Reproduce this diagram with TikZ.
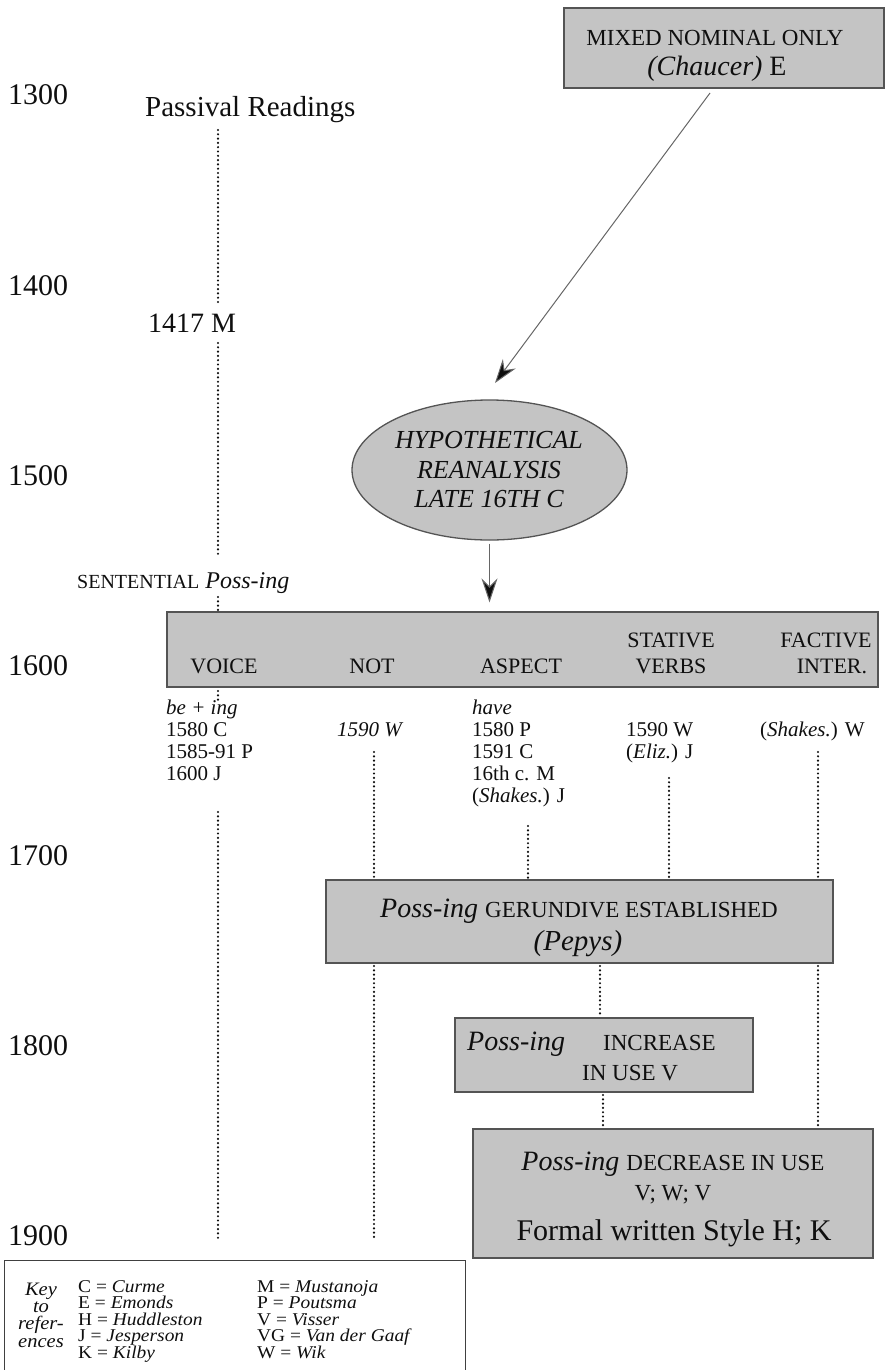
\documentclass[tikz,border=0pt]{standalone}
\usepackage{fontspec}
\setmainfont{Liberation Serif}
\newfontfamily\keyfont[FakeStretch=1.08]{Liberation Serif}
\usetikzlibrary{arrows.meta,shapes.geometric}
\definecolor{ink}{gray}{0.06}
\definecolor{boxfill}{gray}{0.77}
\definecolor{boxline}{gray}{0.33}
\newcommand\myfs[1]{\fontsize{#1}{#1}\selectfont}
\begin{document}
\begin{tikzpicture}[x=1pt,y=-1pt,
  txt/.style={inner sep=0pt, anchor=base west, text=ink},
  ctxt/.style={inner sep=0pt, anchor=base, text=ink},
  box/.style={draw=boxline, fill=boxfill, line width=1.3pt, inner sep=0pt},
  dots/.style={draw=ink, line width=2.4pt, dash pattern=on 0pt off 4.3pt, line cap=round},
  arr/.style={draw=black!60, line width=1pt, -{Stealth[length=24pt,width=16pt,inset=8pt,fill=ink]}}]
\useasboundingbox (0,0) rectangle (890,1370);

% year labels
\foreach \yr/\yy in {1300/105,1400/295,1500/485,1600/675,1700/865,1800/1055,1900/1245}
  \node[txt, font=\myfs{30}] (y\yr) at (8,\yy) {\yr};

% boxes
\node[box, minimum width=320pt, minimum height=80pt] (topbox) at (724,48) {};
\node[box, ellipse, minimum width=275pt, minimum height=140pt] (ell) at (489.5,470) {};
\node[box, minimum width=711pt, minimum height=75pt] (wide) at (522.5,649.5) {};
\node[box, minimum width=507pt, minimum height=83pt] (pepys) at (579.5,921.5) {};
\node[box, minimum width=298pt, minimum height=74pt] (incr) at (604,1055) {};
\node[box, minimum width=400pt, minimum height=129pt] (decr) at (673,1193.5) {};
\node[draw=black!75, line width=1pt, minimum width=461pt, minimum height=130pt, inner sep=0pt] (key) at (234.5,1325) {};

% top box text
\node[ctxt, font=\myfs{23}] (tb1) at (715,46) {MIXED NOMINAL ONLY};
\node[ctxt, font=\myfs{28}] (tb2) at (717,76) {\textit{(Chaucer)} E};

% ellipse text
\node[ctxt, font=\myfs{26}\itshape] (el1) at (489,448) {HYPOTHETICAL};
\node[ctxt, font=\myfs{26}\itshape] (el2) at (489,478) {REANALYSIS};
\node[ctxt, font=\myfs{26}\itshape] (el3) at (489,507) {LATE 16TH C};

% arrows
\coordinate (a1s) at (710,93);
\coordinate (a1e) at (495,383);
\draw[arr] (a1s) -- (a1e);
\draw[arr, shorten <=3pt, shorten >=9pt] (ell.south) -- (ell.south |- wide.north);

% passival readings column
\node[txt, font=\myfs{29}] (pass) at (145,117) {Passival Readings};
\node[txt, font=\myfs{28}] (m1417) at (148,332) {1417 M};
\node[txt] (sent) at (77,588) {\myfs{20}SENTENTIAL\hspace{6pt}\myfs{24}\itshape Poss-ing};

% wide box labels
\node[ctxt, font=\myfs{22}] (voice) at (224,673) {VOICE};
\node[ctxt, font=\myfs{22}] (not) at (372,673) {NOT};
\node[ctxt, font=\myfs{22}] (aspect) at (521,673) {ASPECT};
\node[ctxt, font=\myfs{22}] (stat1) at (671,647) {STATIVE};
\node[ctxt, font=\myfs{22}] (stat2) at (671,673) {VERBS};
\node[ctxt, font=\myfs{22}] (fact1) at (826,647) {FACTIVE};
\node[ctxt, font=\myfs{22}] (fact2) at (832,673) {INTER.};

% column texts
\node[txt, font=\myfs{21}] (c1a) at (166,714) {\textit{be + ing}};
\node[txt, font=\myfs{21}] (c1b) at (166,736) {1580 C};
\node[txt, font=\myfs{21}] (c1c) at (166,758) {1585-91 P};
\node[txt, font=\myfs{21}] (c1d) at (166,780) {1600 J};
\node[txt, font=\myfs{21}] (c2a) at (337,736) {\textit{1590 W}};
\node[txt, font=\myfs{21}] (c3a) at (472,714) {\textit{have}};
\node[txt, font=\myfs{21}] (c3b) at (472,736) {1580 P};
\node[txt, font=\myfs{21}] (c3c) at (472,758) {1591 C};
\node[txt, font=\myfs{21}] (c3d) at (472,780) {16th c. M};
\node[txt, font=\myfs{21}] (c3e) at (472,802) {(\textit{Shakes.}) J};
\node[txt, font=\myfs{21}] (c4a) at (626,736) {1590 W};
\node[txt, font=\myfs{21}] (c4b) at (626,758) {(\textit{Eliz.}) J};
\node[txt, font=\myfs{21}] (c5a) at (760,736) {(\textit{Shakes.}) W};

% pepys box text
\node[ctxt] (pp1) at (579,917) {\myfs{28}\itshape Poss-ing\hspace{7pt}\upshape\myfs{23}GERUNDIVE ESTABLISHED};
\node[ctxt, font=\myfs{29}\itshape] (pp2) at (578,950) {(Pepys)};

% increase box text
\node[txt, font=\myfs{28}\itshape] (in1) at (467,1050) {Poss-ing};
\node[txt, font=\myfs{23}] (in2) at (603,1050) {INCREASE};
\node[txt, font=\myfs{23}] (in3) at (582,1080) {IN USE V};

% decrease box text
\node[ctxt] (de1) at (673,1170) {\myfs{28}\itshape Poss-ing\hspace{7pt}\upshape\myfs{23}DECREASE IN USE};
\node[ctxt, font=\myfs{23}] (de2) at (673,1200) {V; W; V};
\node[ctxt, font=\myfs{30}] (de3) at (674,1240) {Formal written Style H; K};

% key
\node[ctxt, font=\keyfont\myfs{19}\itshape] (k1) at (41,1295) {Key};
\node[ctxt, font=\keyfont\myfs{19}\itshape] (k2) at (41,1312) {to};
\node[ctxt, font=\keyfont\myfs{19}\itshape] (k3) at (41,1329) {refer-};
\node[ctxt, font=\keyfont\myfs{19}\itshape] (k4) at (41,1347) {ences};
\node[txt, font=\keyfont\myfs{18}] (kc) at (78,1292) {C = \textit{Curme}};
\node[txt, font=\keyfont\myfs{18}] (ke) at (78,1308.6) {E = \textit{Emonds}};
\node[txt, font=\keyfont\myfs{18}] (kh) at (78,1325.2) {H = \textit{Huddleston}};
\node[txt, font=\keyfont\myfs{18}] (kj) at (78,1341.8) {J = \textit{Jesperson}};
\node[txt, font=\keyfont\myfs{18}] (kk) at (78,1358.4) {K = \textit{Kilby}};
\node[txt, font=\keyfont\myfs{18}] (km) at (257,1292) {M = \textit{Mustanoja}};
\node[txt, font=\keyfont\myfs{18}] (kp) at (257,1308.6) {P = \textit{Poutsma}};
\node[txt, font=\keyfont\myfs{18}] (kv) at (257,1325.2) {V = \textit{Visser}};
\node[txt, font=\keyfont\myfs{18}] (kvg) at (257,1341.8) {VG = \textit{Van der Gaaf}};
\node[txt, font=\keyfont\myfs{18}] (kw) at (257,1358.4) {W = \textit{Wik}};

% dotted connectors
\coordinate (d1a) at (218,130); \coordinate (d1b) at (218,305);
\coordinate (d1c) at (218,343); \coordinate (d1d) at (218,557);
\coordinate (d1e) at (218,597); \coordinate (d1f) at (218,610);
\coordinate (d1g) at (218,691); \coordinate (d1h) at (218,700);
\coordinate (d1i) at (218,812); \coordinate (d1j) at (218,1240);
\draw[dots] (d1a) -- (d1b);
\draw[dots] (d1c) -- (d1d);
\draw[dots] (d1e) -- (d1f);
\draw[dots] (d1g) -- (d1h);
\draw[dots] (d1i) -- (d1j);

\coordinate (d2a) at (374,752); \coordinate (d2c) at (374,966); \coordinate (d2d) at (374,1240);
\draw[dots] (d2a) -- (d2a |- pepys.north);
\draw[dots] (d2c) -- (d2d);

\coordinate (d3a) at (528,826);
\draw[dots] (d3a) -- (d3a |- pepys.north);
\coordinate (d4a) at (669,778);
\draw[dots] (d4a) -- (d4a |- pepys.north);
\coordinate (d5a) at (818,752); \coordinate (d5c) at (818,966);
\draw[dots] (d5a) -- (d5a |- pepys.north);
\draw[dots] (d5c) -- (d5c |- decr.north);

\coordinate (d6a) at (600,966);
\draw[dots] (d6a) -- (d6a |- incr.north);
\coordinate (d7a) at (603,1095);
\draw[dots] (d7a) -- (d7a |- decr.north);
\end{tikzpicture}
\end{document}
